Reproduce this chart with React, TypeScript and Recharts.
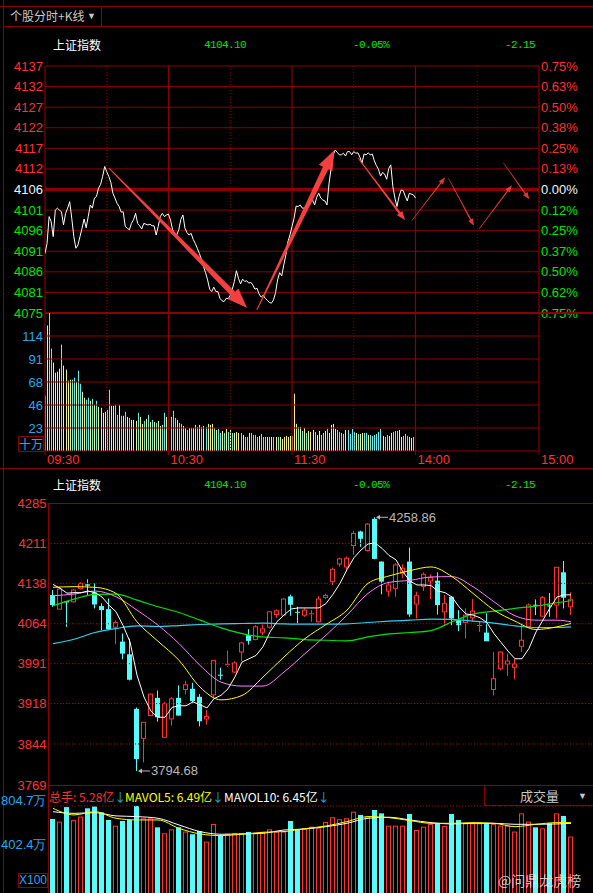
import { ComposedChart, Line, Bar, XAxis, YAxis, ReferenceLine, ReferenceDot } from "recharts"

// ---------- intraday (分时) ----------
const MINUTE_PRICE = [
  4090.3, 4092.8, 4099.5, 4098.2, 4094.5, 4101.1, 4101.6, 4101.1, 4100.7, 4097.4,
  4100.3, 4101.6, 4103.2, 4099.1, 4094.5, 4091.6, 4092.4, 4094.5, 4096.6, 4098.9,
  4096.7, 4099.5, 4102.4, 4101.6, 4104.1, 4104.5, 4106.6, 4107.5, 4109.5, 4112.0,
  4110.7, 4109.5, 4108.0, 4105.3, 4104.1, 4102.8, 4102.0, 4100.6, 4100.7, 4097.0,
  4096.6, 4096.2, 4097.8, 4098.7, 4100.3, 4097.8, 4097.2, 4096.4, 4097.8, 4097.6,
  4097.4, 4097.6, 4097.2, 4097.2, 4094.9, 4097.0, 4099.5, 4100.3, 4099.5, 4099.9,
  4100.1, 4098.6, 4096.2, 4095.3, 4094.9, 4096.2, 4098.8, 4099.9, 4096.6, 4095.5,
  4094.9, 4095.3, 4093.8, 4092.8, 4091.6, 4090.3, 4088.8, 4087.0, 4085.5, 4083.7,
  4081.4, 4080.8, 4081.9, 4080.8, 4080.8, 4079.1, 4078.5, 4078.3, 4079.1, 4079.0,
  4079.9, 4081.4, 4083.3, 4086.0, 4084.1, 4082.7, 4083.9, 4083.3, 4083.5, 4082.9,
  4083.1, 4082.4, 4081.4, 4081.6, 4080.2, 4079.4, 4079.9, 4079.1, 4078.6, 4078.1,
  4077.9, 4078.7, 4080.5, 4083.7, 4085.5, 4084.7, 4087.4, 4089.9, 4093.2, 4094.9,
  4097.0, 4099.1, 4102.1, 4102.0, 4102.4, 4101.6, 4101.6, 4102.0, 4102.4, 4103.8,
  4103.6, 4102.4, 4104.3, 4105.3, 4104.1, 4103.6, 4103.4, 4102.4, 4107.8, 4111.5,
  4114.9, 4116.1, 4115.5, 4114.9, 4114.9, 4115.3, 4114.6, 4115.7, 4115.7, 4114.9,
  4115.7, 4115.3, 4115.4, 4114.3, 4112.8, 4115.1, 4114.9, 4115.4, 4114.9, 4115.1,
  4113.4, 4112.2, 4111.3, 4109.6, 4110.5, 4110.1, 4108.8, 4111.5, 4112.4, 4107.0,
  4104.1, 4102.0, 4104.5, 4106.1, 4106.0, 4104.6, 4103.4, 4105.3, 4105.1, 4104.9,
  4104.1,
]

// 十万手
const MINUTE_VOL = [
  55, 125, 138, 102, 88, 78, 79, 82, 106, 85,
  81, 70, 71, 71, 73, 69, 80, 67, 59, 53,
  51, 53, 50, 52, 46, 50, 44, 43, 38, 39,
  41, 61, 45, 45, 46, 36, 46, 35, 35, 39,
  34, 33, 31, 31, 30, 38, 34, 27, 30, 32,
  36, 29, 31, 29, 28, 30, 25, 26, 38, 34,
  29, 34, 40, 33, 31, 28, 27, 25, 23, 21,
  23, 23, 23, 26, 24, 26, 24, 25, 24, 27,
  26, 27, 23, 21, 22, 18, 20, 18, 22, 19,
  21, 18, 18, 19, 18, 18, 16, 14, 14, 18,
  18, 16, 16, 14, 15, 17, 14, 14, 14, 14,
  14, 14, 14, 14, 14, 12, 14, 15, 14, 15,
  15, 57, 27, 24, 24, 20, 23, 18, 20, 19,
  21, 19, 16, 20, 16, 18, 20, 22, 18, 26,
  27, 22, 21, 19, 18, 17, 21, 21, 17, 22,
  19, 18, 17, 17, 18, 18, 18, 16, 16, 15,
  16, 17, 19, 22, 15, 14, 16, 15, 18, 19,
  20, 20, 21, 14, 15, 17, 15, 14, 13, 14,
  5,
]

// Y = 外盘(黄) C = 内盘(青)
const MINUTE_SIDE = [
  "YYCCYYYYCY", "YYYCCYCCYY", "CCYCYCYYYY", "CCYYCCYCYC", "YCYYYCYYCY",
  "CYCYCYYCCY", "CCCCYCCYYC", "YCYYCYCYCY", "YYCYCCYCYC", "YCYYYCYCCY",
  "CCCCYCCCYC", "YCYCYYYYYY", "YYYCYCYCYY", "YCYYCCYCYY", "YYCCCCYCCC",
  "CYCYYCCYCC", "CCCCYCCYYC", "CCYYCCCYYC", "C",
].join("")

const PRICE_TICKS = [4137.05, 4131.92, 4126.78, 4121.65, 4116.52, 4111.38, 4106.25, 4101.12, 4095.98, 4090.85, 4085.72, 4080.58, 4075.45]
const PRICE_LABELS = ["4137", "4132", "4127", "4122", "4117", "4112", "4106", "4101", "4096", "4091", "4086", "4081", "4075"]
const PCT_LABELS = ["0.75%", "0.63%", "0.50%", "0.38%", "0.25%", "0.13%", "0.00%", "0.12%", "0.25%", "0.37%", "0.50%", "0.62%", "0.75%"]
const VOL_TICKS = [114.5, 91.6, 68.7, 45.8, 22.9]
const VOL_LABELS = ["114", "91", "68", "46", "23"]
const TIME_TICKS = [0, 60, 120, 180, 240]
const TIME_LABELS = ["09:30", "10:30", "11:30", "14:00", "15:00"]
const HALF_HOURS = [30, 90, 150, 210]

// hand-drawn arrows, in (minute, price)
const ARROWS = [
  { from: [31.1, 4111.6], to: [98.2, 4076.7], kind: "big" },
  { from: [102.9, 4076.2], to: [140.6, 4116.1], kind: "big" },
  { from: [152.1, 4114.1], to: [174.9, 4098.6], kind: "mid" },
  { from: [178.2, 4098.5], to: [194.4, 4109.3], kind: "thin" },
  { from: [196.0, 4109.1], to: [208.4, 4097.2], kind: "thin" },
  { from: [210.9, 4096.4], to: [226.8, 4107.3], kind: "thin" },
  { from: [222.7, 4112.9], to: [235.3, 4103.8], kind: "thin" },
]

// ---------- daily K ----------
const K_OPEN = [
  4116.6, 4090.8, 4105.5, 4104.3, 4128.8, 4136.2, 4121.5, 4096.4, 4090.8, 4057.8,
  4031.4, 4008.1, 3908.3, 3854.4, 3896.1, 3928.5, 3856.3, 3889.9, 3928.5, 3943.8,
  3945.1, 3930.4, 3889.9, 3934.0, 3970.8, 3986.7, 3975.7, 4012.4, 4043.1, 4035.1,
  4048.6, 4057.8, 4081.0, 4079.8, 4114.1, 4085.9, 4079.8, 4081.0, 4067.6, 4112.3,
  4141.1, 4173.5, 4168.0, 4207.2, 4232.9, 4198.0, 4256.0, 4177.8, 4123.9, 4128.8,
  4156.4, 4177.8, 4100.0, 4132.5, 4142.3, 4142.9, 4085.9, 4113.5, 4070.6, 4066.3,
  4074.9, 4059.6, 4048.0, 3943.8, 3981.8, 3990.4, 3984.3, 4022.9, 4058.4, 4098.8,
  4078.0, 4097.6, 4098.2, 4158.2, 4095.1,
]
const K_HIGH = [
  4125.8, 4131.9, 4105.5, 4127.0, 4140.0, 4145.4, 4138.0, 4101.3, 4110.4, 4070.6,
  4046.1, 4036.9, 3910.8, 3883.8, 3936.0, 3942.0, 3920.6, 3929.8, 3951.2, 3959.8,
  3956.1, 3935.3, 3906.5, 3997.1, 3983.7, 4014.9, 3995.3, 4030.8, 4054.1, 4061.4,
  4062.7, 4087.2, 4090.2, 4110.4, 4117.2, 4095.1, 4092.1, 4089.0, 4114.7, 4119.0,
  4166.8, 4185.2, 4187.0, 4234.2, 4234.2, 4248.3, 4258.86, 4178.0, 4141.1, 4174.8,
  4172.9, 4203.5, 4122.7, 4158.2, 4154.5, 4158.2, 4116.6, 4114.7, 4089.0, 4092.1,
  4109.2, 4067.6, 4082.9, 4012.4, 4013.7, 4009.4, 4000.2, 4064.5, 4101.3, 4108.6,
  4114.7, 4120.2, 4167.4, 4179.0, 4121.5,
]
const K_LOW = [
  4095.1, 4090.8, 4058.4, 4103.0, 4127.0, 4116.6, 4092.1, 4052.3, 4052.3, 4026.5,
  3999.0, 3960.4, 3794.68, 3810.3, 3895.0, 3885.0, 3856.0, 3877.7, 3896.0, 3934.7,
  3920.6, 3876.5, 3879.5, 3926.7, 3961.6, 3984.9, 3973.8, 3995.3, 4025.9, 4033.9,
  4043.1, 4055.3, 4074.9, 4078.6, 4078.6, 4064.5, 4076.8, 4067.6, 4066.3, 4109.2,
  4135.0, 4168.6, 4159.4, 4190.1, 4204.8, 4196.2, 4182.0, 4117.8, 4113.5, 4113.5,
  4147.2, 4076.8, 4073.7, 4123.9, 4109.2, 4081.0, 4061.4, 4061.4, 4050.4, 4036.9,
  4067.6, 4049.2, 4032.0, 3932.8, 3978.8, 3968.3, 3962.2, 4012.4, 4056.5, 4079.8,
  4076.8, 4076.8, 4073.7, 4092.1, 4079.8,
]
const K_CLOSE = [
  4098.2, 4127.6, 4103.1, 4125.8, 4138.0, 4133.7, 4099.4, 4089.0, 4054.1, 4066.3,
  4009.4, 3961.6, 3816.4, 3883.8, 3935.3, 3893.0, 3917.5, 3926.7, 3896.1, 3952.4,
  3922.4, 3885.6, 3894.2, 3997.1, 3968.9, 3989.2, 3992.2, 4029.0, 4032.7, 4058.4,
  4054.7, 4085.9, 4087.8, 4109.2, 4098.8, 4084.1, 4089.0, 4082.3, 4109.2, 4116.0,
  4163.7, 4182.7, 4183.9, 4229.3, 4219.5, 4246.4, 4182.7, 4141.1, 4134.9, 4171.7,
  4165.6, 4081.0, 4115.3, 4154.5, 4148.4, 4098.2, 4101.3, 4073.7, 4061.4, 4079.8,
  4087.2, 4060.8, 4032.0, 3963.4, 4012.4, 3995.9, 3990.4, 4033.9, 4098.2, 4097.6,
  4111.7, 4096.4, 4167.4, 4111.7, 4108.0,
]
// 万手 (x100)
const K_VOL = [
  689, 665, 795, 680, 710, 784, 800, 748, 680, 629,
  671, 680, 804.7, 695, 695, 614, 561, 596, 614, 576,
  552, 581, 486, 644, 540, 555, 561, 561, 573, 561,
  570, 596, 576, 576, 671, 590, 605, 620, 605, 662,
  704, 686, 695, 754, 725, 710, 769, 739, 629, 629,
  629, 733, 590, 620, 644, 650, 626, 733, 680, 650,
  650, 650, 650, 644, 629, 629, 576, 739, 665, 614,
  605, 650, 739, 716, 531,
]
const MA5 = [
  4136, 4129, 4120, 4121, 4121, 4124, 4121, 4113, 4098, 4086,
  4061, 4031, 3970, 3930, 3904, 3893, 3893, 3911, 3914, 3914,
  3921, 3916, 3910, 3927, 3933, 3945, 3967, 3994, 4000, 4006,
  4022, 4049, 4068, 4080, 4091, 4093, 4093, 4093, 4093, 4101,
  4118, 4138, 4163, 4185, 4199, 4210, 4212, 4202, 4189, 4181,
  4159, 4142, 4135, 4135, 4134, 4124, 4121, 4113, 4095, 4082,
  4080, 4075, 4066, 4046, 4030, 4014, 4000, 4000, 4019, 4049,
  4071, 4093, 4113, 4117, 4117,
]
// longer averages read at every third session
const MA_AT = [1, 4, 7, 10, 13, 16, 19, 22, 25, 28, 31, 34, 37, 40, 43, 46, 49, 52, 55, 58, 61, 64, 67, 70, 73, 75]
const MA10 = [4130.7, 4131.9, 4130.7, 4119.6, 4067.6, 4032.0, 3997.1, 3948.1, 3924.8, 3932.8, 3966.5, 4003.3, 4036.9, 4062.7, 4089.0, 4138.0, 4151.5, 4161.3, 4168.0, 4150.3, 4119.6, 4089.0, 4068.8, 4053.5, 4058.4, 4064.5]
const MA20 = [4115.3, 4118.4, 4123.9, 4113.5, 4089.0, 4061.4, 4027.7, 3987.9, 3957.3, 3950.0, 3950.0, 3975.7, 4009.4, 4043.1, 4079.8, 4119.6, 4139.8, 4143.5, 4149.6, 4150.3, 4131.9, 4104.3, 4078.6, 4070.6, 4070.6, 4067.6]
const MA60 = [4097.0, 4109.2, 4117.8, 4118.4, 4107.4, 4095.1, 4084.7, 4070.6, 4056.5, 4046.1, 4040.0, 4038.2, 4035.1, 4033.9, 4032.7, 4040.0, 4045.5, 4048.0, 4051.6, 4067.6, 4081.7, 4087.2, 4092.1, 4096.4, 4102.5, 4106.2]
const MA120 = [4027.7, 4035.7, 4048.0, 4055.3, 4060.2, 4059.0, 4060.8, 4062.7, 4063.9, 4064.5, 4065.1, 4063.9, 4063.3, 4063.3, 4063.9, 4066.3, 4068.8, 4070.6, 4072.5, 4071.9, 4068.8, 4065.1, 4060.2, 4057.2, 4057.2, 4058.4]
const MAVOL5 = [784, 725, 754, 695, 680, 680, 605, 555, 540, 552, 570, 576, 602, 626, 665, 710, 701, 674, 650, 650, 656, 650, 620, 641, 656, 656]
const MAVOL10 = [754, 739, 745, 716, 710, 695, 635, 576, 552, 555, 561, 590, 599, 620, 650, 695, 704, 680, 656, 644, 650, 650, 641, 641, 644, 650]

const K_TICKS = [4285, 4211, 4138, 4064, 3991, 3918, 3844, 3769]
const KVOL_TICKS = [804.7, 402.4]
const KVOL_LABELS = ["804.7万", "402.4万"]

// ---------- tables ----------
const minuteRows = MINUTE_PRICE.map((p, m) => ({ m, p, v: MINUTE_VOL[m], up: MINUTE_SIDE[m] === "Y" }))

const kRows: any[] = K_OPEN.map((o, k) => ({
  i: k + 1, o, h: K_HIGH[k], l: K_LOW[k], c: K_CLOSE[k],
  range: [K_LOW[k], K_HIGH[k]], vol: K_VOL[k], ma5: MA5[k],
  ma10: null, ma20: null, ma60: null, ma120: null, mv5: null, mv10: null,
}))
MA_AT.forEach((i, j) => {
  const r = kRows[i - 1]
  r.ma10 = MA10[j]; r.ma20 = MA20[j]; r.ma60 = MA60[j]; r.ma120 = MA120[j]
  r.mv5 = MAVOL5[j]; r.mv10 = MAVOL10[j]
})

// ---------- look ----------
const GRID = "#8c0000"
const RED = "#ff3232"
const GREEN = "#00e600"
const BLUE = "#25a8f0"
const K_CYAN = "#54fcfc"
const ARROW_RED = "#ff4242"
const FONT = '"Liberation Sans", Arial, sans-serif'
const CJK = '"Noto Sans CJK SC", "Liberation Sans", sans-serif'
const MONO = '"Liberation Mono", "DejaVu Sans Mono", monospace'

const sideColor = (k: number) => (k < 6 ? RED : k === 6 ? "#eef6ff" : GREEN)
const tickIdx = (list: number[], v: number) => list.findIndex((t) => Math.abs(t - v) < 1e-6)

const PriceTick = (p: any) => {
  const k = tickIdx(PRICE_TICKS, p.payload.value)
  return <text x={43} y={p.y} dy={4.5} textAnchor="end" fill={sideColor(k)} fontSize={13} fontFamily={FONT}>{PRICE_LABELS[k]}</text>
}
const PctTick = (p: any) => {
  const k = tickIdx(PRICE_TICKS, p.payload.value)
  return <text x={541} y={p.y} dy={4.5} textAnchor="start" fill={sideColor(k)} fontSize={13} fontFamily={FONT}>{PCT_LABELS[k]}</text>
}
const VolTick = (p: any) => {
  const k = tickIdx(VOL_TICKS, p.payload.value)
  return <text x={43} y={p.y} dy={4.5} textAnchor="end" fill={BLUE} fontSize={13} fontFamily={FONT}>{VOL_LABELS[k]}</text>
}
const TimeTick = (p: any) => {
  const k = TIME_TICKS.indexOf(p.payload.value)
  return <text x={p.x + 2} y={163.5} textAnchor="start" fill={RED} fontSize={13} fontFamily={FONT}>{TIME_LABELS[k]}</text>
}
const KTick = (p: any) => (
  <text x={46.5} y={p.y} dy={4.5} textAnchor="end" fill={RED} fontSize={13} fontFamily={FONT}>{p.payload.value}</text>
)
const KVolTick = (p: any) => {
  const k = tickIdx(KVOL_TICKS, p.payload.value)
  return <text x={46.5} y={p.y} dy={-1.5} textAnchor="end" fill={BLUE} fontSize={13} fontFamily={FONT}>{KVOL_LABELS[k]}</text>
}

const MinuteStick = (p: any) => {
  const { x, y, width, height, payload } = p
  if (!height || height <= 0) return <g />
  return <rect x={Math.round(x + width / 2 - 0.5)} y={y} width={1} height={height} fill={payload.up ? "#f4f47a" : "#62eef0"} />
}

const Candle = (p: any) => {
  const { x, y, width, height, payload } = p
  const { o, h, l, c } = payload
  const py = (v: number) => y + ((h - v) / (h - l)) * height
  const up = c >= o
  const col = up ? RED : K_CYAN
  const cx = Math.floor(x + width / 2) + 0.5
  const top = py(Math.max(o, c))
  const bot = py(Math.min(o, c))
  if (!up) {
    return (
      <g>
        <line x1={cx} x2={cx} y1={y} y2={y + height} stroke={col} />
        <rect x={cx - 2.5} y={top} width={5} height={Math.max(bot - top, 1)} fill={col} />
      </g>
    )
  }
  return (
    <g>
      <line x1={cx} x2={cx} y1={y} y2={top} stroke={col} />
      <line x1={cx} x2={cx} y1={bot} y2={y + height} stroke={col} />
      {bot - top < 1.5 ? (
        <line x1={cx - 2.5} x2={cx + 2.5} y1={top} y2={top} stroke={col} />
      ) : (
        <rect x={cx - 2} y={top} width={4} height={bot - top} fill="#000" stroke={col} />
      )}
    </g>
  )
}

const VolBox = (p: any) => {
  const { x, y, width, height, payload } = p
  const cx = Math.floor(x + width / 2) + 0.5
  if (payload.c >= payload.o) {
    return <rect x={cx - 2} y={y + 0.5} width={4} height={height + 10} fill="#000" stroke={RED} />
  }
  return <rect x={cx - 2.5} y={y} width={5} height={height + 10} fill={K_CYAN} />
}

const ARROW_SIZE: Record<string, number[]> = { big: [1, 6, 20, 15], mid: [1, 2.2, 9, 7], thin: [0.6, 1.4, 7, 5.5] }
const arrowShape = (kind: string) => (p: any) => {
  const { x1, y1, x2, y2 } = p
  const [w0, w1, hl, hw] = ARROW_SIZE[kind]
  const dx = x2 - x1, dy = y2 - y1
  const len = Math.hypot(dx, dy) || 1
  const ux = dx / len, uy = dy / len, nx = -uy, ny = ux
  const bx = x2 - ux * hl, by = y2 - uy * hl
  const pts = [
    [x1 + (nx * w0) / 2, y1 + (ny * w0) / 2],
    [bx + (nx * w1) / 2, by + (ny * w1) / 2],
    [bx + (nx * hw) / 2, by + (ny * hw) / 2],
    [x2, y2],
    [bx - (nx * hw) / 2, by - (ny * hw) / 2],
    [bx - (nx * w1) / 2, by - (ny * w1) / 2],
    [x1 - (nx * w0) / 2, y1 - (ny * w0) / 2],
  ]
  return <polygon points={pts.map((q) => q.join(",")).join(" ")} fill={ARROW_RED} opacity={kind === "thin" ? 0.85 : 0.95} />
}

const extremeMark = (text: string) => (p: any) => {
  const { cx, cy } = p
  return (
    <g>
      <path d={`M${cx + 1},${cy} l4,-2.5 v5 z`} fill="#b8b8b8" />
      <line x1={cx + 3} x2={cx + 13} y1={cy} y2={cy} stroke="#b8b8b8" />
      <text x={cx + 14} y={cy} dy={4.5} fill="#b8b8b8" fontSize={13} fontFamily={FONT}>{text}</text>
    </g>
  )
}

const Txt = ({ x, cy, size = 12, color, font = FONT, spacing = 0, children }: any) => (
  <div style={{ position: "absolute", left: x, top: cy - 9, height: 18, lineHeight: "18px", fontSize: size, color, fontFamily: font, letterSpacing: spacing, whiteSpace: "nowrap" }}>
    {children}
  </div>
)
const HLine = ({ x, y, w, h = 1 }: any) => (
  <div style={{ position: "absolute", left: x, top: y, width: w, height: h, background: GRID }} />
)
const VLine = ({ x, y, h }: any) => <div style={{ position: "absolute", left: x, top: y, width: 1, height: h, background: GRID }} />

const Quote = ({ cy }: { cy: number }) => (
  <>
    <Txt x={53} cy={cy} size={12} color="#ffffff" font={CJK}>上证指数</Txt>
    <Txt x={204} cy={cy} size={11} spacing={-0.6} color={GREEN} font={MONO}>4104.10</Txt>
    <Txt x={353} cy={cy} size={11} spacing={-0.6} color={GREEN} font={MONO}>-0.05%</Txt>
    <Txt x={505} cy={cy} size={11} spacing={-0.6} color={GREEN} font={MONO}>-2.15</Txt>
  </>
)

export default function App() {
  const pDomain = [PRICE_TICKS[PRICE_TICKS.length - 1], PRICE_TICKS[0]]
  return (
    <div style={{ position: "relative", width: 593, height: 893, background: "#000", overflow: "hidden" }}>
      <style>{"html,body{margin:0;padding:0;background:#000}"}</style>

      {/* frame */}
      <VLine x={3} y={0} h={893} />
      <HLine x={0} y={6} w={593} />
      <HLine x={3} y={26} w={590} />
      <VLine x={101} y={6} h={20} />
      <Txt x={10} cy={16} size={12} color="#c8c8c8" font={CJK}>个股分时+K线</Txt>
      <Txt x={87} cy={16} size={9} color="#c8c8c8">▼</Txt>
      <Quote cy={45} />

      {/* intraday price */}
      <div style={{ position: "absolute", left: 0, top: 0 }}>
        <ComposedChart width={593} height={330} data={minuteRows} margin={{ top: 66, right: 0, bottom: 17, left: 0 }}>
          <XAxis dataKey="m" type="number" domain={[0, 240]} hide allowDataOverflow />
          <YAxis yAxisId="p" width={45} domain={pDomain} ticks={PRICE_TICKS} interval={0} tick={PriceTick} axisLine={false} tickLine={false} tickSize={0} allowDataOverflow />
          <YAxis yAxisId="r" orientation="right" width={54} domain={pDomain} ticks={PRICE_TICKS} interval={0} tick={PctTick} axisLine={false} tickLine={false} tickSize={0} allowDataOverflow />
          {PRICE_TICKS.map((t, k) => (
            <ReferenceLine key={"h" + k} yAxisId="p" y={t} stroke={GRID} strokeWidth={k === 6 ? 3.5 : 1} ifOverflow="visible" />
          ))}
          {HALF_HOURS.map((m) => (
            <ReferenceLine key={"d" + m} yAxisId="p" x={m} stroke={GRID} strokeDasharray="1 2" />
          ))}
          {TIME_TICKS.map((m) => (
            <ReferenceLine key={"s" + m} yAxisId="p" x={m} stroke={GRID} strokeWidth={1.2} />
          ))}
          <Line yAxisId="p" dataKey="p" type="linear" stroke="#ffffff" strokeWidth={1} dot={false} isAnimationActive={false} />
          {ARROWS.map((a, k) => (
            <ReferenceLine
              key={"a" + k}
              yAxisId="p"
              segment={[{ x: a.from[0], y: a.from[1] }, { x: a.to[0], y: a.to[1] }]}
              ifOverflow="visible"
              shape={arrowShape(a.kind)}
            />
          ))}
        </ComposedChart>
      </div>
      <HLine x={45} y={312} w={548} h={2} />

      {/* intraday volume */}
      <div style={{ position: "absolute", left: 0, top: 300 }}>
        <ComposedChart width={593} height={172} data={minuteRows} margin={{ top: 13, right: 54, bottom: 0, left: 0 }}>
          <XAxis dataKey="m" type="number" domain={[0, 240]} ticks={TIME_TICKS} interval={0} height={21} tick={TimeTick} axisLine={{ stroke: GRID }} tickLine={{ stroke: GRID }} tickSize={4} allowDataOverflow />
          <YAxis yAxisId="v" width={45} domain={[0, 137.4]} ticks={VOL_TICKS} interval={0} tick={VolTick} axisLine={false} tickLine={false} tickSize={0} allowDataOverflow />
          {VOL_TICKS.map((t) => (
            <ReferenceLine key={"vh" + t} yAxisId="v" y={t} stroke={GRID} />
          ))}
          {HALF_HOURS.map((m) => (
            <ReferenceLine key={"vd" + m} yAxisId="v" x={m} stroke={GRID} strokeDasharray="1 2" />
          ))}
          {TIME_TICKS.map((m) => (
            <ReferenceLine key={"vs" + m} yAxisId="v" x={m} stroke={GRID} strokeWidth={1.2} />
          ))}
          <Bar yAxisId="v" dataKey="v" barSize={1} shape={MinuteStick} isAnimationActive={false} />
        </ComposedChart>
      </div>
      <div style={{ position: "absolute", left: 18, top: 436, width: 26, height: 16, border: `1px solid ${GRID}`, boxSizing: "border-box", color: BLUE, fontFamily: CJK, fontSize: 12, lineHeight: "14px", textAlign: "center" }}>十万</div>
      <HLine x={0} y={468} w={593} />

      {/* daily K */}
      <Quote cy={485} />
      <HLine x={48} y={503} w={545} />
      <VLine x={48} y={503} h={390} />
      <div style={{ position: "absolute", left: 0, top: 470 }}>
        <ComposedChart width={593} height={325} data={kRows} margin={{ top: 33, right: 0, bottom: 10, left: 0 }}>
          <XAxis dataKey="i" type="category" hide padding={{ left: 1.5, right: 18.5 }} />
          <YAxis yAxisId="k" width={48} domain={[3769, 4285]} ticks={K_TICKS} interval={0} tick={KTick} axisLine={false} tickLine={false} tickSize={0} allowDataOverflow />
          {K_TICKS.slice(1, -1).map((t) => (
            <ReferenceLine key={"kh" + t} yAxisId="k" y={t} stroke="#b00000" strokeDasharray="1 2" />
          ))}
          <Bar yAxisId="k" dataKey="range" barSize={7} shape={Candle} isAnimationActive={false} />
          <Line yAxisId="k" dataKey="ma120" type="monotone" stroke="#2ed2f0" strokeWidth={1.2} dot={false} connectNulls isAnimationActive={false} />
          <Line yAxisId="k" dataKey="ma60" type="monotone" stroke="#00e000" strokeWidth={1.2} dot={false} connectNulls isAnimationActive={false} />
          <Line yAxisId="k" dataKey="ma20" type="monotone" stroke="#ff80ff" strokeWidth={1} dot={false} connectNulls isAnimationActive={false} />
          <Line yAxisId="k" dataKey="ma10" type="monotone" stroke="#ffff00" strokeWidth={1} dot={false} connectNulls isAnimationActive={false} />
          <Line yAxisId="k" dataKey="ma5" type="linear" stroke="#ffffff" strokeWidth={1} dot={false} isAnimationActive={false} />
          <ReferenceDot yAxisId="k" x={47} y={4258.86} ifOverflow="visible" shape={extremeMark("4258.86")} />
          <ReferenceDot yAxisId="k" x={13} y={3794.68} ifOverflow="visible" shape={extremeMark("3794.68")} />
        </ComposedChart>
      </div>
      <HLine x={48} y={785} w={545} />

      {/* daily volume */}
      <div style={{ position: "absolute", left: 0, top: 780 }}>
        <ComposedChart width={593} height={116} data={kRows} margin={{ top: 26, right: 0, bottom: 0, left: 0 }}>
          <XAxis dataKey="i" type="category" hide padding={{ left: 1.5, right: 18.5 }} />
          <YAxis yAxisId="kv" width={48} domain={[0, 804.7]} ticks={KVOL_TICKS} interval={0} tick={KVolTick} axisLine={false} tickLine={false} tickSize={0} allowDataOverflow />
          <ReferenceLine yAxisId="kv" y={804.7} stroke="#b00000" strokeDasharray="1 2" />
          <Bar yAxisId="kv" dataKey="vol" barSize={7} shape={VolBox} isAnimationActive={false} />
          <Line yAxisId="kv" dataKey="mv10" type="monotone" stroke="#ffffff" strokeWidth={1} dot={false} connectNulls isAnimationActive={false} />
          <Line yAxisId="kv" dataKey="mv5" type="monotone" stroke="#ffff00" strokeWidth={1} dot={false} connectNulls isAnimationActive={false} />
        </ComposedChart>
      </div>
      <div style={{ position: "absolute", left: 484, top: 785, width: 109, height: 21, borderLeft: `1px solid ${GRID}`, borderBottom: `1px solid ${GRID}`, boxSizing: "border-box" }} />
      <Txt x={520} cy={796} size={13} color="#c8c8c8" font={CJK}>成交量</Txt>
      <Txt x={578} cy={796} size={9} color="#c8c8c8">▼</Txt>
      <Txt x={49} cy={797} size={12} color={RED} font={CJK}>总手: 5.28亿<span style={{ color: BLUE }}>↓</span></Txt>
      <Txt x={125} cy={797} size={12} color="#ffff00" font={CJK}>MAVOL5: 6.49亿<span style={{ color: BLUE }}>↓</span></Txt>
      <Txt x={224} cy={797} size={12} color="#ffffff" font={CJK}>MAVOL10: 6.45亿<span style={{ color: BLUE }}>↓</span></Txt>
      <div style={{ position: "absolute", left: 18, top: 873, width: 30, height: 15, border: `1px solid ${GRID}`, boxSizing: "border-box", color: BLUE, fontFamily: FONT, fontSize: 12, lineHeight: "13px", textAlign: "center" }}>X100</div>
      <Txt x={498} cy={880} size={14} color="rgba(230,230,230,0.85)" font={CJK}>@问鼎龙虎榜</Txt>
    </div>
  )
}
